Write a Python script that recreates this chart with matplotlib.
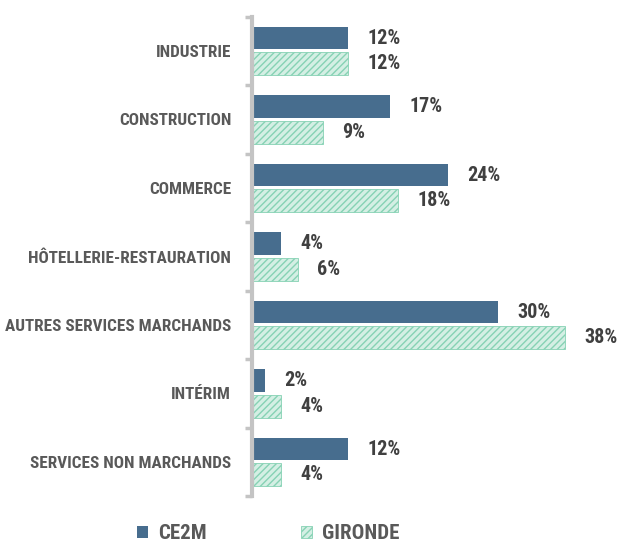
import matplotlib
matplotlib.use("Agg")
import matplotlib.pyplot as plt
import numpy as np

plt.rcParams['font.family'] = ['Roboto Condensed', 'DejaVu Sans']
plt.rcParams['hatch.linewidth'] = 1.0

categories = ["INDUSTRIE", "CONSTRUCTION", "COMMERCE", "HÔTELLERIE-RESTAURATION",
              "AUTRES SERVICES MARCHANDS", "INTÉRIM", "SERVICES NON MARCHANDS"]
ce2m = [12, 17, 24, 4, 30, 2, 12]
gironde = [12, 9, 18, 6, 38, 4, 4]
series_names = ["CE2M", "GIRONDE"]

blue = "#476d8e"
mint = "#d4efe4"
hatch_col = "#86d2b4"
txt = "#404040"
grey = "#c4c4c4"

fig = plt.figure(figsize=(6.18, 5.45), dpi=100)
ax = fig.add_axes([252 / 618, 49 / 545, 366 / 618, 479.5 / 545])

y = np.arange(len(categories))
h = 0.33
b1 = ax.barh(y - 0.185, ce2m, height=h, color=blue, label=series_names[0])
b2 = ax.barh(y + 0.19, gironde, height=h, color=mint, edgecolor=hatch_col,
             hatch="/////", linewidth=0.6, label=series_names[1])

for bars, vals in ((b1, ce2m), (b2, gironde)):
    for r, v in zip(bars, vals):
        ax.annotate(f"{v}%", (r.get_width(), r.get_y() + r.get_height() / 2),
                    xytext=(14, 0), textcoords="offset points", va="center",
                    ha="left", fontsize=14.5, fontweight="bold", color=txt)

# zero sits a little left of the axis line, bars are clipped at it
ax.set_xlim(0.48, 44.4)
ax.set_ylim(len(categories) - 0.5, -0.5)
ax.set_yticks(y)
ax.set_yticklabels(categories, fontsize=12.3, fontweight="bold", color="#595959")
ax.set_yticks(np.arange(-0.5, len(categories) + 0.5, 1), minor=True)
ax.tick_params(axis="y", which="major", length=0, pad=15)
ax.tick_params(axis="y", which="minor", length=5, width=2.5, color=grey)
ax.set_xticks([])
for s in ("top", "right", "bottom"):
    ax.spines[s].set_visible(False)
ax.spines["left"].set_color(grey)
ax.spines["left"].set_linewidth(3)

fig.legend(handles=[b1, b2], loc="center left", bbox_to_anchor=(118 / 618, 0.021),
           ncol=2, frameon=False, handlelength=0.53, handleheight=0.53,
           handletextpad=0.48, columnspacing=4.56,
           prop={"size": 15, "weight": "bold"}, labelcolor="#595959")

fig.savefig("out.png", dpi=100)
